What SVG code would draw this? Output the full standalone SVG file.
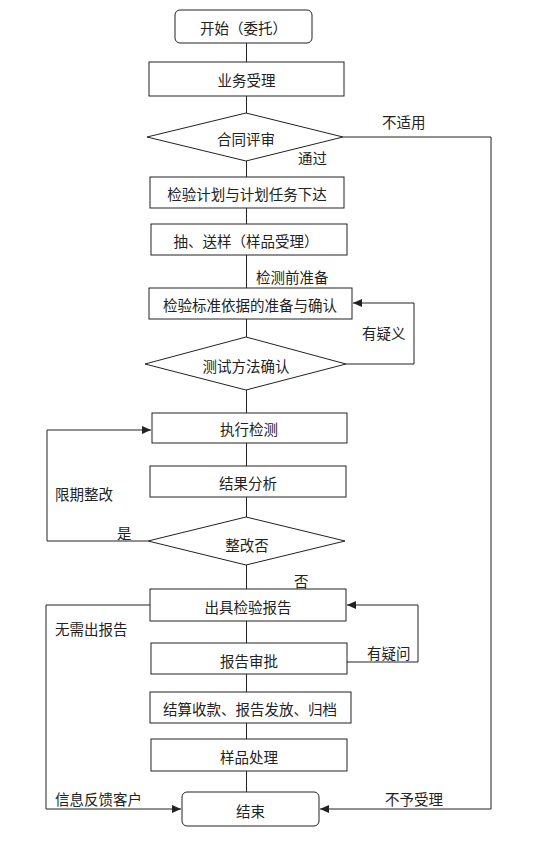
<svg xmlns="http://www.w3.org/2000/svg" width="540" height="850" viewBox="0 0 540 850">
<style>
.box{fill:#fff;stroke:#222;stroke-width:1}
.t{font-family:"Noto Sans CJK SC","Microsoft YaHei",sans-serif;font-size:14.5px;fill:#222;text-anchor:middle;dominant-baseline:central}
.l{font-family:"Noto Sans CJK SC","Microsoft YaHei",sans-serif;font-size:14.5px;fill:#222;dominant-baseline:central}
.c{fill:none;stroke:#222;stroke-width:1}
</style>
<defs>
<marker id="ar" markerUnits="userSpaceOnUse" markerWidth="10" markerHeight="10" refX="9" refY="4" orient="auto">
<path d="M0,0 L9,4 L0,8 z" fill="#222"/>
</marker>
</defs>
<rect width="540" height="850" fill="#fff"/>
<g id="connectors">
<path class="c" d="M246.5,43 V62 M246.5,96 V113 M246.5,161 V177 M246.5,208 V224 M246.5,255 V288 M246.5,319 V337 M246.5,390 V413 M246.5,443 V466 M246.5,497 V517 M246.5,565 V589 M246.5,621 V643 M246.5,674 V692 M246.5,723 V739 M246.5,771 V792"/>
<path class="c" d="M343,137 H491 V809 H320" marker-end="url(#ar)"/>
<path class="c" d="M346,364 H414 V303 H353" marker-end="url(#ar)"/>
<path class="c" d="M148,541 H47 V430 H151" marker-end="url(#ar)"/>
<path class="c" d="M347,662 H418 V605 H347" marker-end="url(#ar)"/>
<path class="c" d="M150,605 H46 V809 H181" marker-end="url(#ar)"/>
<text class="l" x="382" y="121">不适用</text>
<text class="l" x="298" y="157">通过</text>
<text class="l" x="256" y="276">检测前准备</text>
<text class="l" x="362" y="332">有疑义</text>
<text class="l" x="55" y="493">限期整改</text>
<text class="l" x="117" y="532">是</text>
<text class="l" x="294" y="580">否</text>
<text class="l" x="55" y="628">无需出报告</text>
<text class="l" x="367" y="652">有疑问</text>
<text class="l" x="55" y="798">信息反馈客户</text>
<text class="l" x="385" y="798">不予受理</text>
</g>
<g id="start"><rect class="box" x="175" y="10" width="137" height="33" rx="5"/><text class="t" x="243.5" y="27">开始（委托）</text></g>
<g id="accept"><rect class="box" x="149" y="62" width="195" height="34"/><text class="t" x="246.5" y="79">业务受理</text></g>
<g id="review"><polygon class="box" points="147,137 246,113 343,137 246,161"/><text class="t" x="246" y="138">合同评审</text></g>
<g id="plan"><rect class="box" x="150" y="177" width="194" height="31"/><text class="t" x="247" y="193">检验计划与计划任务下达</text></g>
<g id="sample"><rect class="box" x="151" y="224" width="196" height="31"/><text class="t" x="246" y="240">抽、送样（样品受理）</text></g>
<g id="standard"><rect class="box" x="149" y="288" width="203" height="31"/><text class="t" x="250" y="304">检验标准依据的准备与确认</text></g>
<g id="method"><polygon class="box" points="145,364 246,337 346,364 246,390"/><text class="t" x="246" y="365">测试方法确认</text></g>
<g id="execute"><rect class="box" x="152" y="413" width="195" height="30"/><text class="t" x="249" y="428">执行检测</text></g>
<g id="analysis"><rect class="box" x="150" y="466" width="196" height="31"/><text class="t" x="248" y="482">结果分析</text></g>
<g id="rectify"><polygon class="box" points="148,541 246,517 345,541 246,565"/><text class="t" x="247" y="544">整改否</text></g>
<g id="report"><rect class="box" x="150" y="589" width="196" height="32"/><text class="t" x="248" y="606">出具检验报告</text></g>
<g id="approve"><rect class="box" x="151" y="643" width="196" height="31"/><text class="t" x="249" y="660">报告审批</text></g>
<g id="settle"><rect class="box" x="150" y="692" width="201" height="31"/><text class="t" x="250" y="708">结算收款、报告发放、归档</text></g>
<g id="dispose"><rect class="box" x="151" y="739" width="196" height="32"/><text class="t" x="249" y="756">样品处理</text></g>
<g id="end"><rect class="box" x="182" y="792" width="137" height="34" rx="5"/><text class="t" x="250.5" y="810">结束</text></g>
</svg>
